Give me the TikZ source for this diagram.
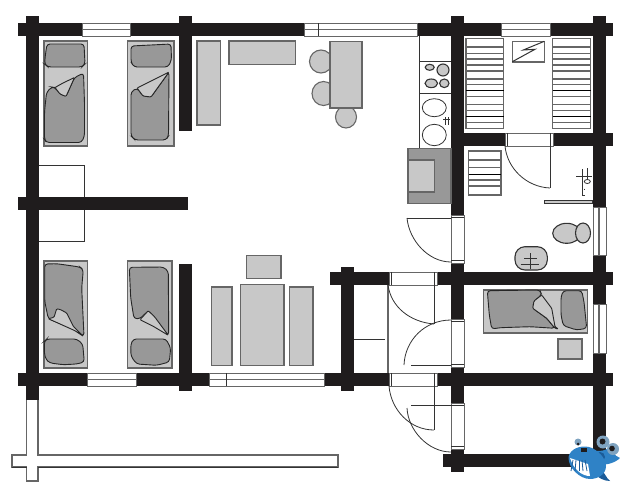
\documentclass[tikz,border=0pt]{standalone}
\usepackage{xcolor}
\definecolor{wallc}{HTML}{1F1C1D}
\definecolor{furnc}{HTML}{C8C8C8}
\definecolor{edgec}{HTML}{666666}
\definecolor{quiltc}{HTML}{989898}
\definecolor{whalec}{HTML}{2F82C6}
\definecolor{whaled}{HTML}{1B5C99}
\definecolor{whaleg}{HTML}{7FA3C0}
\tikzset{
    wallbar/.style={fill=wallc, draw=none},
    winbox/.style={fill=white, draw=edgec, line width=0.9pt},
    furn/.style={fill=furnc, draw=edgec, line width=1.1pt},
    thinline/.style={draw=black!80, line width=0.8pt},
    graybar/.style={draw=edgec, line width=1.1pt},
    quilt/.style={fill=quiltc, draw=black!85, line width=0.9pt, rounded corners=3pt},
    fold/.style={fill=furnc, draw=black!85, line width=0.9pt, rounded corners=1pt},
}
\begin{document}
\begin{tikzpicture}[x=1pt, y=-1pt]
\useasboundingbox (0,0) rectangle (620,482);

% Terrace
\draw[graybar, fill=white] (26.5,400) -- (26.5,455) -- (12,455) -- (12,467) -- (26.5,467) -- (26.5,481)
    -- (38,481) -- (38,467) -- (338,467) -- (338,455) -- (38,455) -- (38,400);
\draw[thinline] (12,467) -- (26.5,467);
\draw[thinline] (38,467) -- (338,467);

% Closet under the wall
\draw[thinline] (39,165.5) -- (84,165.5) -- (84,241) -- (39,241);

% Walls
\foreach \xa/\ya/\xb/\yb in {
    18/23/613/36, 18/197/188/210, 451/133/613/146, 330/272/613/285, 18/373/613/386, 443/454/596/467,
    26/16/39/400, 179/16/192/131, 179/264/192/391, 341/267/354/391,
    451/16/464/215, 451/263/464/472, 593/16/606/460} {
    \fill[wallbar] (\xa,\ya) rectangle (\xb,\yb);
}

% Windows with a centre line
\foreach \xa/\xb/\ya in {82/130/23, 304/417/23, 501/550/23, 87/136/373, 209/324/373} {
    \draw[winbox] (\xa,\ya) rectangle (\xb,\ya+13);
    \draw[graybar] (\xa,\ya+6.5) -- (\xb,\ya+6.5);
}
\draw[thinline] (318,23) -- (318,36);
\draw[thinline] (226,373) -- (226,386);
\foreach \ya/\yb in {207/255, 304/353} {
    \draw[winbox] (593,\ya) rectangle (606,\yb);
    \draw[graybar, line width=1.6pt] (599,\ya) -- (599,\yb);
}

% Door openings
\foreach \xa/\ya in {505/133, 389/272, 389/373} {
    \draw[winbox] (\xa,\ya) rectangle (\xa+48,\ya+13);
    \draw[thinline] (\xa+2.5,\ya) -- (\xa+2.5,\ya+13);
    \draw[thinline] (\xa+45.5,\ya) -- (\xa+45.5,\ya+13);
}
\foreach \ya/\yb in {215/263, 319/367, 403/449} {
    \draw[winbox] (451,\ya) rectangle (464,\yb);
    \draw[thinline] (451,\ya+2.5) -- (464,\ya+2.5);
    \draw[thinline] (451,\yb-2.5) -- (464,\yb-2.5);
}

% Door leaves
\draw[thinline] (407,218) -- (451,218);
\draw[thinline] (407,218) .. controls (409,240) and (428,262) .. (451,262);
\draw[thinline] (550,146) -- (550,188);
\draw[thinline] (505,146) .. controls (507,168) and (526,187) .. (550,188);
\draw[graybar] (388,285) -- (388,373);
\draw[thinline] (434,285) -- (434,324);
\draw[thinline] (388,285) .. controls (391,307) and (410,322) .. (434,324);
\draw[thinline] (451,320) .. controls (425,320) and (405,340) .. (404,365);
\draw[thinline] (411,365) -- (451,365);
\draw[thinline] (434,386) -- (434,430);
\draw[thinline] (389,386) .. controls (391,410) and (410,430) .. (434,430);
\draw[thinline] (411,405) -- (451,405);
\draw[thinline] (407,408) .. controls (408,430) and (428,452) .. (451,452);
\draw[thinline] (354,339) -- (385,339);

% Beds
\foreach \xa/\xb/\ya/\yb in {44/87.5/41/146, 127.5/174/41/146, 44/87.5/261/368, 127.5/172/261/368, 483.5/587.5/290/333} {
    \draw[furn] (\xa,\ya) rectangle (\xb,\yb);
}
\draw[quilt] (47,44) -- (84,44) -- (85,64) -- (82,67) -- (48,67) -- (44.5,64) -- (45.5,54) -- cycle;
\draw[quilt] (44.5,112) -- (46.5,92.5) -- (51.5,87) -- (55,87.5) -- (60,94) -- (66,96.5) -- (74.5,77.5)
    -- (83.5,73) -- (84.5,103) -- (84.5,136) -- (81.5,142.5) -- (46.5,142.5) -- (44.5,139.5) -- cycle;
\draw[fold] (55,87.5) -- (63,83) -- (74.5,77.5) -- (66,96.5) -- (60,94) -- cycle;

\draw[quilt] (131,46) -- (171,44) -- (171.5,60) -- (168,67) -- (134,67) -- (131,62) -- cycle;
\draw[quilt] (131,92) -- (137,88) -- (143,96) -- (151,97) -- (169,72) -- (168.5,136) -- (166,140)
    -- (135,140) -- (131,136) -- cycle;
\draw[fold] (137,88) -- (143,96) -- (151,97) -- (169,72) -- (155,79) -- cycle;

\draw[quilt] (44.7,264) -- (56.7,263.7) -- (80,267) -- (83.3,269.7) -- (81.7,288) -- (84,336.3)
    -- (75,330) -- (48.3,318.7) -- (44.7,301.3) -- cycle;
\draw[fold] (48.3,318.7) -- (54,317.3) -- (56.7,308.7) -- (60.7,309.7) -- (66.7,313) -- (73.3,326.3)
    -- (83.3,336.3) -- (75,330.7) -- cycle;
\draw[quilt] (46.7,339) -- (76.7,339) -- (82.7,344) -- (84.3,362) -- (76.7,364) -- (63.3,364.7) -- (50,363)
    -- (46,359.7) -- (44.3,353) -- (44.3,341.3) -- cycle;

\draw[quilt] (129.3,267.3) -- (163.3,267) -- (168.3,271.3) -- (168.7,335.3) -- (156.7,323) -- (148.3,310.7)
    -- (140,318.7) -- (134,318.7) -- (130.7,298) -- cycle;
\draw[fold] (140,319.7) -- (148.3,310.7) -- (155,317.3) -- (168.3,335.3) -- (153.3,326.3) -- cycle;
\draw[quilt] (133.3,339) -- (166,339) -- (170.7,348) -- (169.3,362) -- (156.7,365.3) -- (136.7,364)
    -- (131,356.3) -- (130.7,344.7) -- cycle;

\draw[quilt] (487.3,290.7) -- (540,290) -- (541.7,295) -- (534,301) -- (532.7,308.3) -- (546.7,318.3)
    -- (555,328.3) -- (530,326.7) -- (500,327.7) -- (491.7,329) -- (489.3,315) -- cycle;
\draw[fold] (541.7,295) -- (551.7,308.3) -- (555,326.7) -- (558.3,329) -- (555,328.3) -- (546.7,318.3)
    -- (532.7,308.3) -- (534,301) -- cycle;
\draw[quilt] (563.3,290.7) -- (581.7,290.7) -- (584,301.7) -- (586.7,328.3) -- (576.7,330) -- (563.3,325.7)
    -- (561,315) -- (561,296.7) -- cycle;
\draw[furn] (558,339) rectangle (582,359);

% Living room furniture
\draw[furn] (321,61.5) ellipse (11.5 and 11.5);
\draw[furn] (323.5,93.5) ellipse (11.5 and 12);
\draw[furn] (346,117) ellipse (10.5 and 11);
\foreach \xa/\ya/\xb/\yb in {197/41/220.5/125, 229/41/295.5/64.5, 330/41.5/362/108,
    246.3/255.3/281/278.7, 240.3/284.3/284/365.5, 211.3/287/232/365.5, 289.3/287/313/365.5} {
    \draw[furn] (\xa,\ya) rectangle (\xb,\yb);
}

% Kitchen
\draw[thinline] (419.5,148) -- (419.5,36);
\draw[thinline] (419.5,61.5) -- (451,61.5);
\draw[thinline] (419.5,93.3) -- (451,93.3);
\draw[furn, draw=black!80] (429.7,67.3) ellipse (4.5 and 3);
\draw[furn, draw=black!80] (443,70) ellipse (6 and 6);
\draw[furn, draw=black!80] (431.3,83.3) ellipse (6.3 and 4.3);
\draw[furn, draw=black!80] (444.3,83.3) ellipse (4.7 and 4.3);
\draw[thinline] (434.3,107.7) ellipse (12 and 9);
\draw[thinline] (434.3,135) ellipse (12 and 10.7);
\draw[thinline] (443.3,119.3) -- (450,119.3);
\draw[thinline] (445.7,117.3) -- (445.7,125);
\draw[thinline] (448.7,117.3) -- (448.7,125);
\draw[graybar, fill=quiltc] (408,148.3) rectangle (451,203.3);
\draw[furn] (408,160) rectangle (434.7,192);

% Sauna benches
\foreach \xa/\xb in {466/503.7, 552.7/590.7} {
    \draw[graybar, fill=white] (\xa,38.3) rectangle (\xb,128.3);
    \foreach \ya in {47,53.3,59,65,71,79,84.3,96.7,104.3,110.3,122.3} {
        \draw[graybar] (\xa,\ya) -- (\xb,\ya);
    }
    \draw[thinline, draw=black] (\xa,90.3) -- (\xb,90.3);
    \draw[thinline, draw=black] (\xa,116.3) -- (\xb,116.3);
}
\draw[graybar, fill=white] (512.3,41.3) rectangle (544.3,62);
\draw[thinline, line width=1pt] (512.3,61.7) -- (535,49.3) -- (523.3,50) -- (544.3,41.3);

% Washroom
\draw[graybar, fill=white] (468.7,151) rectangle (501,195);
\foreach \ya in {160,167.7,180,186} {
    \draw[graybar] (468.7,\ya) -- (501,\ya);
}
\draw[thinline, draw=black] (468.7,174.3) -- (501,174.3);
\draw[fill=furnc, draw=black!80, line width=0.8pt] (544,200.3) rectangle (592.5,203.7);
\draw[thinline] (576,176.7) -- (592.3,176.7);
\draw[thinline] (582.7,169.3) -- (582.7,195) -- (584.7,195);
\draw[thinline] (587.3,168.3) -- (587.3,180);
\draw[thinline] (587.3,181.5) ellipse (3 and 2);
\draw[thinline] (584.5,188.5) -- (584.5,190);
\draw[furn, draw=black!80] (566.7,233.3) ellipse (14 and 10);
\draw[furn, draw=black!80] (583,233) ellipse (7.5 and 10);
\draw[furn, draw=black!80, rounded corners=10pt] (515,246.7) rectangle (547.3,270);
\draw[thinline] (524,258.3) -- (537.3,258.3);
\draw[thinline] (520.7,264.3) -- (539.3,264.3);
\draw[thinline] (530,253.3) -- (530,269.3);

% Whale
\fill[whaled] (599,467) .. controls (606,474) and (606,478) .. (610,481) .. controls (604,481) and (598,478) .. (594,473) -- cycle;
\fill[whalec] (598,464) .. controls (607,466) and (616,462) .. (620,458) .. controls (614,456) and (612,450) .. (609,447) .. controls (606,451) and (600,451) .. (596,451) -- cycle;
\fill[whaleg] (603,442) circle (6.5);
\fill[whaleg] (613,449) circle (6);
\fill[wallc] (602.5,441.5) circle (3);
\fill[wallc] (612,448.5) circle (2.8);
\fill[whaled] (600,457) circle (5);
\fill[whalec] (568.5,457) .. controls (570,449) and (580,445) .. (589,447) .. controls (597,449) and (606,458) .. (606,466)
    .. controls (606,475) and (597,479) .. (590,479) .. controls (580,479) and (568,468) .. (568.5,457) -- cycle;
\fill[white] (570,458) -- (588,464) -- (590,476) .. controls (582,476) and (574,470) .. (570,458) -- cycle;
\foreach \xa/\xb in {573/571, 576/575, 579/579, 582/583, 585/587} {
    \draw[whaled, line width=0.8pt] (\xa,460) -- (\xb,471);
}
\fill[wallc] (581,448) rectangle (587,452);
\fill[whaleg] (578,442) circle (3.5);
\fill[wallc] (578,444) circle (1.5);
\end{tikzpicture}
\end{document}
